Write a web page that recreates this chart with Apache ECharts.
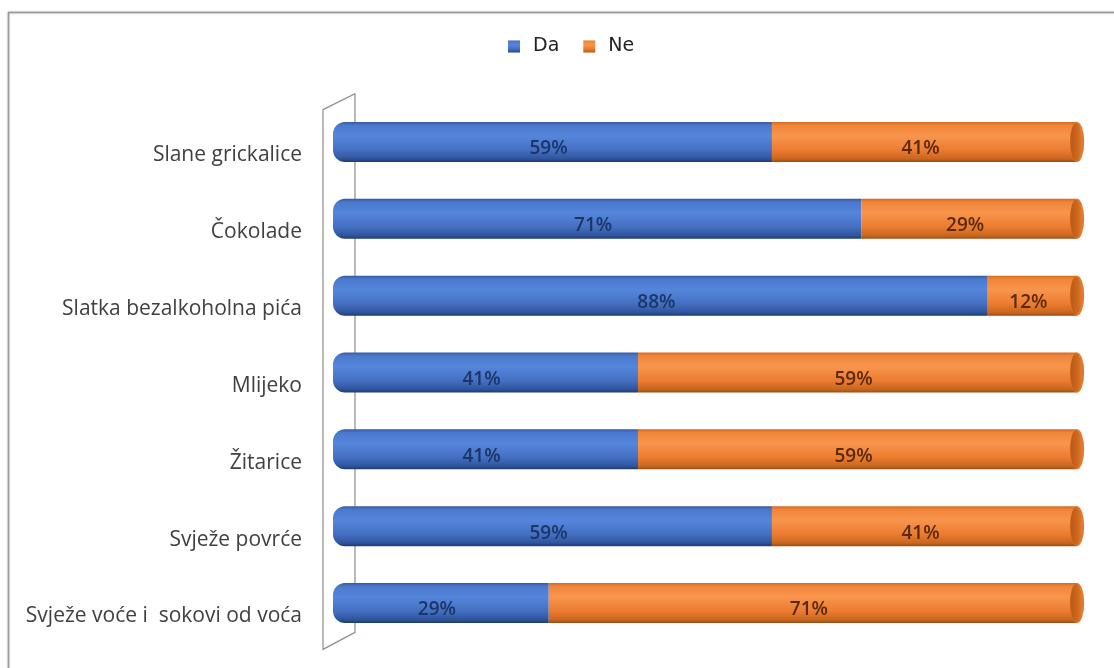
<!DOCTYPE html>
<html>
<head>
<meta charset="utf-8">
<script src="https://cdn.jsdelivr.net/npm/echarts@6/dist/echarts.min.js"></script>
<style>
  html, body { margin: 0; padding: 0; background: #fff; }
  #chart { width: 1114px; height: 668px; }
</style>
</head>
<body>
<div id="chart"></div>
<script>
var categories = ['Slane grickalice', 'Čokolade', 'Slatka bezalkoholna pića', 'Mlijeko', 'Žitarice', 'Svježe povrće', 'Svježe voće i  sokovi od voća'];
var daValues = [59, 71, 88, 41, 41, 59, 29];
var neValues = [41, 29, 12, 59, 59, 41, 71];
var seriesNames = ['Da', 'Ne'];

var chart = echarts.init(document.getElementById('chart'));

// plot area
var gLeft = 333, gRight = 37, gTop = 103.6, gHeight = 537.8;
var gBottom = 668 - gTop - gHeight;

var blueFill = new echarts.graphic.LinearGradient(0, 0, 0, 1, [
  { offset: 0, color: '#3559a0' },
  { offset: 0.08, color: '#4a78cc' },
  { offset: 0.35, color: '#5586dc' },
  { offset: 0.7, color: '#4470c2' },
  { offset: 0.92, color: '#2f549c' },
  { offset: 1, color: '#1d3a72' }
]);
var orangeFill = new echarts.graphic.LinearGradient(0, 0, 0, 1, [
  { offset: 0, color: '#d56a1f' },
  { offset: 0.08, color: '#f0853a' },
  { offset: 0.35, color: '#f8954c' },
  { offset: 0.7, color: '#ec7c30' },
  { offset: 0.92, color: '#c9661f' },
  { offset: 1, color: '#9c4c12' }
]);
var capFill = new echarts.graphic.LinearGradient(0, 0, 1, 0, [
  { offset: 0, color: '#b85a17' },
  { offset: 0.7, color: '#cf6a22' },
  { offset: 1, color: '#e27a2e' }
]);

var labelStyle = {
  show: true,
  position: 'inside',
  offset: [-4, 7],
  formatter: '{c}%',
  fontFamily: 'Open Sans',
  fontSize: 19,
  fontWeight: 600
};

var option = {
  backgroundColor: '#fff',
  animation: false,
  legend: {
    data: seriesNames,
    left: 503,
    top: 32,
    icon: 'rect',
    itemWidth: 12,
    itemHeight: 12,
    itemGap: 24,
    textStyle: { fontFamily: 'DejaVu Sans', fontSize: 19, color: '#222', padding: [0, 0, 0, 8] }
  },
  grid: { left: gLeft, right: gRight, top: gTop, bottom: gBottom },
  xAxis: { type: 'value', min: 0, max: 100, show: false },
  yAxis: {
    type: 'category',
    inverse: true,
    data: categories,
    axisLine: { show: false },
    axisTick: { show: false },
    axisLabel: {
      margin: 31,
      verticalAlign: 'top',
      lineHeight: 27,
      fontFamily: 'Open Sans',
      fontSize: 21,
      color: '#404040'
    }
  },
  graphic: [
    {
      type: 'rect', z: -10, silent: true,
      shape: { x: 8.5, y: 12.5, width: 1120, height: 680 },
      style: { fill: '#fff', stroke: '#999', lineWidth: 1.5, shadowColor: 'rgba(0,0,0,0.25)', shadowBlur: 2 }
    },
    {
      type: 'polygon', z: -5, silent: true,
      shape: { points: [[gLeft - 10, gTop + 6], [gLeft + 22, gTop - 10], [gLeft + 22, gTop + gHeight - 9], [gLeft - 10, gTop + gHeight + 8]] },
      style: { fill: 'none', stroke: '#8c8c8c', lineWidth: 1.2 }
    }
  ],
  series: [
    {
      name: 'Da',
      type: 'bar',
      stack: 'all',
      barWidth: 40,
      data: daValues,
      itemStyle: { color: blueFill, borderRadius: [12, 0, 0, 12] },
      label: Object.assign({}, labelStyle, { color: '#1c3566' }),
      z: 3
    },
    {
      name: 'Ne',
      type: 'bar',
      stack: 'all',
      barWidth: 40,
      data: neValues,
      itemStyle: { color: orangeFill },
      label: Object.assign({}, labelStyle, { color: '#5a2a07' }),
      z: 3
    },
    {
      // end caps of the cylinders
      type: 'custom',
      data: categories.map(function (c, i) { return [daValues[i] + neValues[i], i]; }),
      encode: { x: 0, y: 1 },
      z: 4,
      silent: true,
      renderItem: function (params, api) {
        var p = api.coord([api.value(0), api.value(1)]);
        return {
          type: 'group',
          children: [
            {
              type: 'circle',
              x: p[0], y: p[1],
              scaleX: 0.36,
              shape: { cx: 0, cy: 0, r: 20 },
              style: { fill: '#e27a2e' }
            },
            {
              type: 'circle',
              x: p[0] - 1, y: p[1],
              scaleX: 0.3,
              shape: { cx: 0, cy: 0, r: 19 },
              style: { fill: capFill }
            }
          ]
        };
      }
    }
  ]
};

chart.setOption(option);
</script>
</body>
</html>
